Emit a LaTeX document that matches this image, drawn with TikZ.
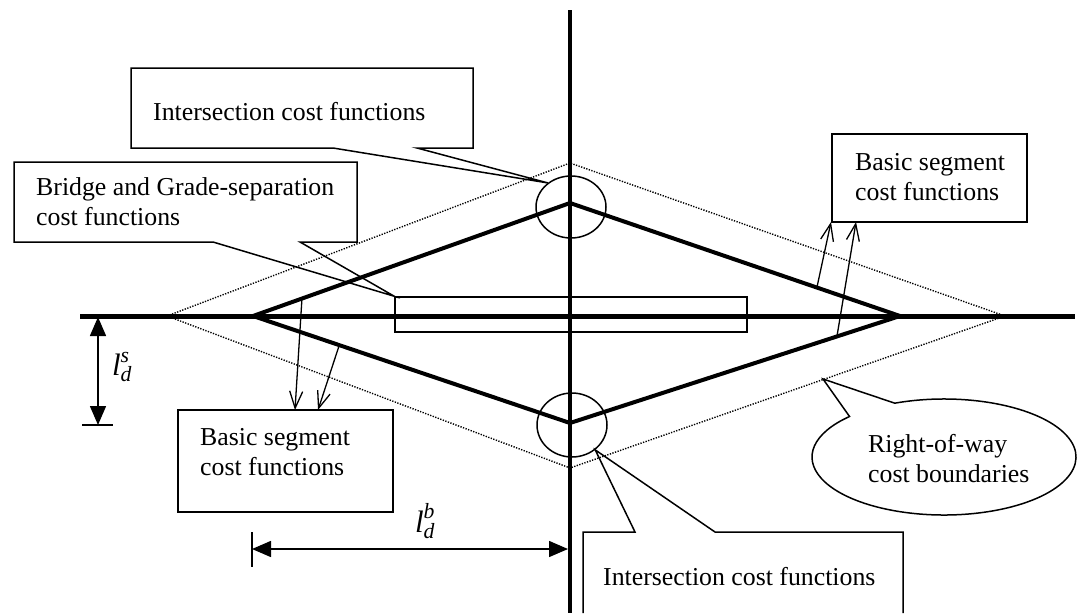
\documentclass[tikz,border=0pt]{standalone}
\usepackage{fontspec}
\usepackage{amsmath}
\setmainfont{Liberation Serif}
\usetikzlibrary{arrows.meta,shapes.geometric}
\begin{document}
\begin{tikzpicture}[x=1pt,y=-1pt,
  thinline/.style={line width=1.5pt},
  axisline/.style={line width=5pt},
  roadline/.style={line width=4pt, line join=miter},
  rowline/.style={line width=1.4pt, dash pattern=on 1.3pt off 1.4pt},
  calloutline/.style={line width=1.5pt, line join=miter},
  boxtext/.style={anchor=base west, inner sep=0pt, align=left, font=\fontsize{25.8}{29.5}\selectfont},
  ring/.style={draw, ellipse, line width=1.5pt, inner sep=0pt},
  dimarrow/.style={line width=1.5pt, {Triangle[length=19pt,width=16pt]}-{Triangle[length=19pt,width=16pt]}},
  feed/.style={line width=1.3pt, -{Straight Barb[length=17pt,width=13pt]}},
  dimlabel/.style={inner sep=0pt, font=\fontsize{31}{33}\selectfont},
]
\path[fill=white, use as bounding box] (0,0) rectangle (1078,613);

% right-of-way boundary (dotted)
\coordinate (oL) at (167,316);
\coordinate (oT) at (570,163);
\coordinate (oR) at (1005,316);
\coordinate (oB) at (570,468);
\draw[rowline] (oL) -- (oT) -- (oR) -- (oB) -- cycle;

% axes
\coordinate (hA) at (80,316);
\coordinate (hB) at (1075,316);
\coordinate (vA) at (570,10);
\coordinate (vB) at (570,613);
\draw[axisline] (hA) -- (hB);
\draw[line width=4.5pt] (vA) -- (vB);

% inner diamond
\coordinate (iL) at (253,316);
\coordinate (iT) at (570,203);
\coordinate (iR) at (900,316);
\coordinate (iB) at (570,423);
\draw[roadline] (iL) -- (iT) -- (iR) -- (iB) -- cycle;

% intersection circles and bridge box
\node[ring, minimum width=70pt, minimum height=62pt] (cTop) at (571,207) {};
\node[ring, minimum width=70pt, minimum height=64pt] (cBot) at (572,425) {};
\node[draw, thinline, minimum width=352pt, minimum height=35pt, inner sep=0pt] (bridge) at (571,314.5) {};

% texts (base anchor = baseline of the last line)
\node[boxtext] (tIntTop) at (153,120) {Intersection cost functions};
\node[boxtext] (tBridge) at (36,225) {Bridge and Grade-separation\\cost functions};
\node[boxtext] (tBasicL) at (200,475) {Basic segment\\cost functions};
\node[boxtext] (tBasicR) at (855,200) {Basic segment\\cost functions};
\node[boxtext] (tIntBot) at (603,585) {Intersection cost functions};
\node[boxtext] (tRow) at (868,482) {Right-of-way\\cost boundaries};

% callout boxes
\draw[calloutline] (131,68) -- (473,68) -- (473,148) -- (417,148) -- (cTop.134) -- (333,148) -- (131,148) -- cycle;
\draw[calloutline] (14,162) -- (357,162) -- (357,242) -- (300,242) -- (bridge.north west) -- (213,242) -- (14,242) -- cycle;
\draw[calloutline] (583,613) -- (583,532) -- (635,532) -- (cBot.-47) -- (715,532) -- (903,532) -- (903,613);
\draw[calloutline] (178,410) rectangle (393,512);
\draw[calloutline] (832,134) rectangle (1027,222);
\coordinate (rowc) at (944,457);
\coordinate (rowtip) at (823,379);
\draw[calloutline] (rowc) ++(248.1:132 and 58) arc[start angle=248.1, end angle=584.3, x radius=132, y radius=58] -- (rowtip) -- cycle;

% basic segment pointers
\coordinate (sL1) at (302,298);
\coordinate (sL2) at (339,346);
\coordinate (eL1) at (295,410);
\coordinate (eL2) at (318,410);
\coordinate (sR1) at (817,287);
\coordinate (sR2) at (837,336);
\coordinate (eR1) at (831,222);
\coordinate (eR2) at (856,222);
\draw[feed] (sL1) -- (eL1);
\draw[feed] (sL2) -- (eL2);
\draw[feed] (sR1) -- (eR1);
\draw[feed] (sR2) -- (eR2);

% dimensions
\coordinate (dsT) at (98,317);
\coordinate (dsB) at (98,425);
\draw[thinline] (82,425) -- (113,425);
\draw[dimarrow] (dsT) -- (dsB);
\node[dimlabel] (lds) at (122,367) {$\textit{l}^{\textit{s}}_{\textit{d}}$};
\coordinate (dbL) at (252,549);
\coordinate (dbR) at (568,549);
\draw[thinline] (252,532) -- (252,567);
\draw[dimarrow] (dbL) -- (dbR);
\node[dimlabel] (ldb) at (425,521) {$\textit{l}^{\textit{b}}_{\textit{d}}$};
\end{tikzpicture}
\end{document}
